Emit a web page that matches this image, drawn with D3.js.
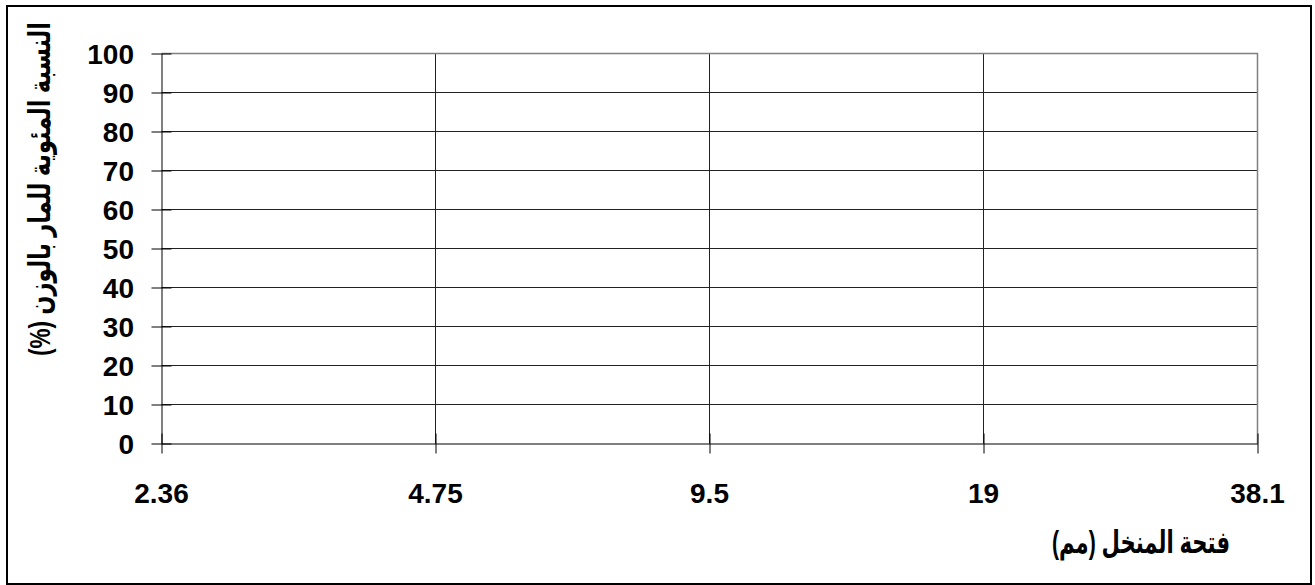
<!DOCTYPE html>
<html>
<head>
<meta charset="utf-8">
<script src="https://cdn.jsdelivr.net/npm/d3@7"></script>
<style>
  html, body { margin: 0; padding: 0; background: #fff; }
  svg { display: block; }
</style>
</head>
<body>
<svg id="chart" width="1315" height="585"></svg>
<script>
// ---- data ----
const sieveSizes = ["2.36", "4.75", "9.5", "19", "38.1"];
const yTicks = [0, 10, 20, 30, 40, 50, 60, 70, 80, 90, 100];
const yDomain = [0, 100];
const xTitle = "فتحة المنخل (مم)";
const yTitle = "النسبة المئوية للمار بالوزن (%)";

const svg = d3.select("#chart");
const plot = { left: 161.5, right: 1257.5, top: 53.5, bottom: 443.5 };
const numFont = "'Liberation Sans', Arial, Helvetica, sans-serif";
const arFont = "Arial, 'DejaVu Sans', 'Noto Sans', sans-serif";

// outer frame
svg.append("rect")
  .attr("x", 7).attr("y", 6).attr("width", 1304).attr("height", 578)
  .attr("fill", "#fff").attr("stroke", "#000").attr("stroke-width", 2);

const x = d3.scalePoint().domain(sieveSizes).range([plot.left, plot.right]);
const y = d3.scaleLinear().domain(yDomain).range([plot.bottom, plot.top]);

// horizontal gridlines
svg.append("g").selectAll("line").data(yTicks.filter(d => d > 0 && d < 100)).join("line")
  .attr("x1", plot.left).attr("x2", plot.right)
  .attr("y1", d => y(d)).attr("y2", d => y(d))
  .attr("stroke", "#222").attr("stroke-width", 1);

// vertical gridlines
svg.append("g").selectAll("line").data(sieveSizes.slice(1, -1)).join("line")
  .attr("x1", d => x(d)).attr("x2", d => x(d))
  .attr("y1", plot.top).attr("y2", plot.bottom)
  .attr("stroke", "#222").attr("stroke-width", 1);

// plot area border (top & right, gray)
svg.append("path")
  .attr("d", `M${plot.left},${plot.top}H${plot.right}V${plot.bottom}`)
  .attr("fill", "none").attr("stroke", "#808080").attr("stroke-width", 1.5);

// y axis (cross ticks)
const yAxis = d3.axisLeft(y).tickValues(yTicks).tickSize(0).tickFormat("");
const gy = svg.append("g").attr("transform", `translate(${plot.left},0)`).call(yAxis);
gy.select(".domain").attr("stroke", "#000").attr("stroke-width", 1);
gy.selectAll(".tick").append("line")
  .attr("x1", -10).attr("x2", 10).attr("stroke", "#000").attr("stroke-width", 1);
svg.append("g").selectAll("text").data(yTicks).join("text")
  .attr("x", 134).attr("y", d => y(d))
  .attr("dy", "0.36em")
  .attr("text-anchor", "end")
  .attr("font-family", numFont).attr("font-weight", "bold").attr("font-size", 28)
  .attr("fill", "#000")
  .text(d => d);

// x axis (cross ticks)
const xAxis = d3.axisBottom(x).tickSize(0).tickFormat("");
const gx = svg.append("g").attr("transform", `translate(0,${plot.bottom})`).call(xAxis);
gx.select(".domain").attr("stroke", "#000").attr("stroke-width", 1);
gx.selectAll(".tick").append("line")
  .attr("y1", -10).attr("y2", 10).attr("stroke", "#000").attr("stroke-width", 1);
svg.append("g").selectAll("text").data(sieveSizes).join("text")
  .attr("x", d => x(d)).attr("y", 503)
  .attr("text-anchor", "middle")
  .attr("font-family", numFont).attr("font-weight", "bold").attr("font-size", 28)
  .attr("fill", "#000")
  .text(d => d);

// x title
svg.append("text")
  .attr("x", 1141).attr("y", 553)
  .attr("text-anchor", "middle")
  .attr("direction", "rtl")
  .attr("font-family", arFont).attr("font-weight", "bold").attr("font-size", 31)
  .attr("textLength", 178).attr("lengthAdjust", "spacingAndGlyphs")
  .attr("fill", "#000")
  .text(xTitle);

// y title
svg.append("text")
  .attr("transform", "translate(50,189) rotate(-90)")
  .attr("text-anchor", "middle")
  .attr("direction", "rtl")
  .attr("font-family", arFont).attr("font-weight", "bold").attr("font-size", 30)
  .attr("textLength", 334).attr("lengthAdjust", "spacingAndGlyphs")
  .attr("fill", "#000")
  .text(yTitle);
</script>
</body>
</html>
